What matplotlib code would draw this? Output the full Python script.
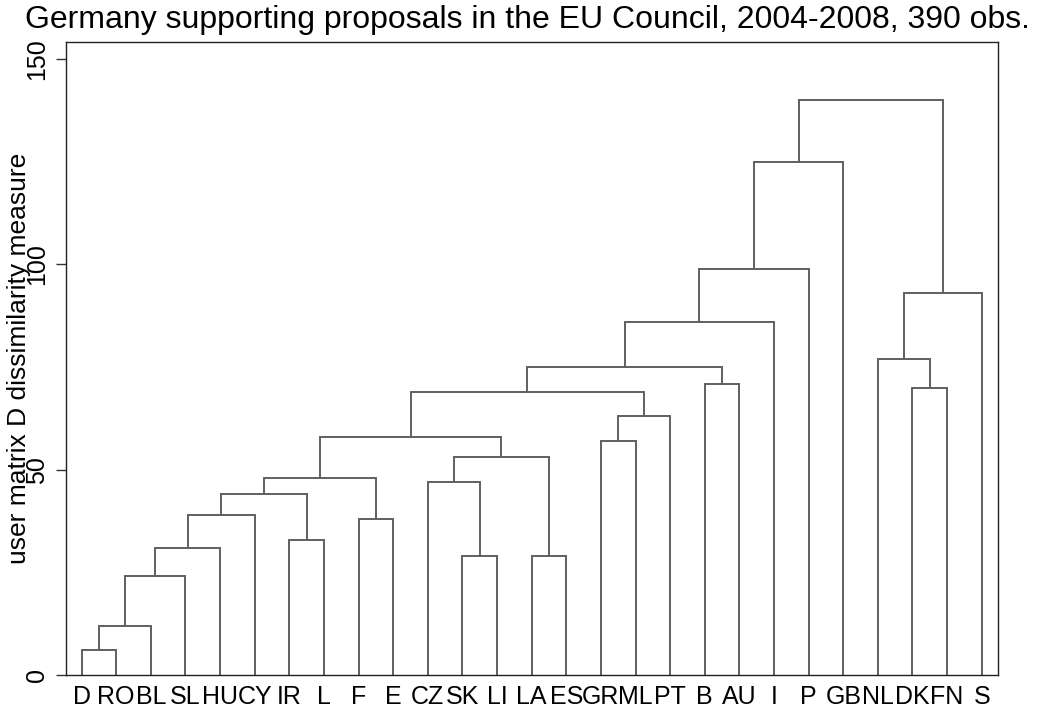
import matplotlib
matplotlib.use('Agg')
import matplotlib.pyplot as plt
import numpy as np

plt.rcParams['font.family'] = ['Liberation Sans', 'DejaVu Sans']

# leaf labels in display order
leaves = ['D', 'RO', 'BL', 'SL', 'HU', 'CY', 'IR', 'L', 'F', 'E', 'CZ', 'SK', 'LI',
          'LA', 'ES', 'GR', 'ML', 'PT', 'B', 'AU', 'I', 'P', 'GB', 'NL', 'DK', 'FN', 'S']

# merges: (left child, right child, height); ids < 27 are leaves,
# id 27 + k is the cluster formed by merge k
merge_a = [0, 27, 28, 29, 30, 6, 31, 8, 33, 11, 10, 13, 37, 35, 15, 41, 40, 18, 43, 45, 46, 47, 24, 23, 50, 48]
merge_b = [1, 2, 3, 4, 5, 7, 32, 9, 34, 12, 36, 14, 38, 39, 16, 17, 42, 19, 44, 20, 21, 22, 25, 49, 26, 51]
heights = [6, 12, 24, 31, 39, 33, 44, 38, 48, 29, 47, 29, 53, 58, 57, 63, 69, 71, 75, 86, 99, 125, 70, 77, 93, 140]

n = len(leaves)
xpos = {i: i + 1 for i in range(n)}
ypos = {i: 0.0 for i in range(n)}

fig = plt.figure(figsize=(10.38, 7.09), dpi=100)
ax = fig.add_axes([0.0633, 0.048, 0.8985, 0.8922])

line_kw = dict(color='#606060', lw=1.4, solid_capstyle='projecting', solid_joinstyle='miter')
for k, (a, b, h) in enumerate(zip(merge_a, merge_b, heights)):
    xa, xb = xpos[a], xpos[b]
    ax.plot([xa, xa, xb, xb], [ypos[a], h, h, ypos[b]], **line_kw)
    xpos[n + k] = (xa + xb) / 2
    ypos[n + k] = h

ax.set_xlim(0.54, n + 0.48)
ax.set_ylim(0, 154.1)

ax.set_xticks(range(1, n + 1))
ax.set_xticklabels(leaves, fontsize=18)
ax.tick_params(axis='x', length=0, pad=7)

ax.set_yticks([0, 50, 100, 150])
ax.set_yticklabels(['0', '50', '100', '150'], rotation=90, va='center', fontsize=18)
ax.tick_params(axis='y', length=7, width=1, pad=5, color='#333333')

for s in ax.spines.values():
    s.set_color('#222222')
    s.set_linewidth(1.0)

ax.set_ylabel('user matrix D dissimilarity measure', fontsize=19)
ax.yaxis.set_label_coords(-0.037, 0.5)

fig.text(0.508, 0.9605, 'Germany supporting proposals in the EU Council, 2004-2008, 390 obs.',
         ha='center', va='baseline', fontsize=23)

fig.savefig('out.png', dpi=100)
